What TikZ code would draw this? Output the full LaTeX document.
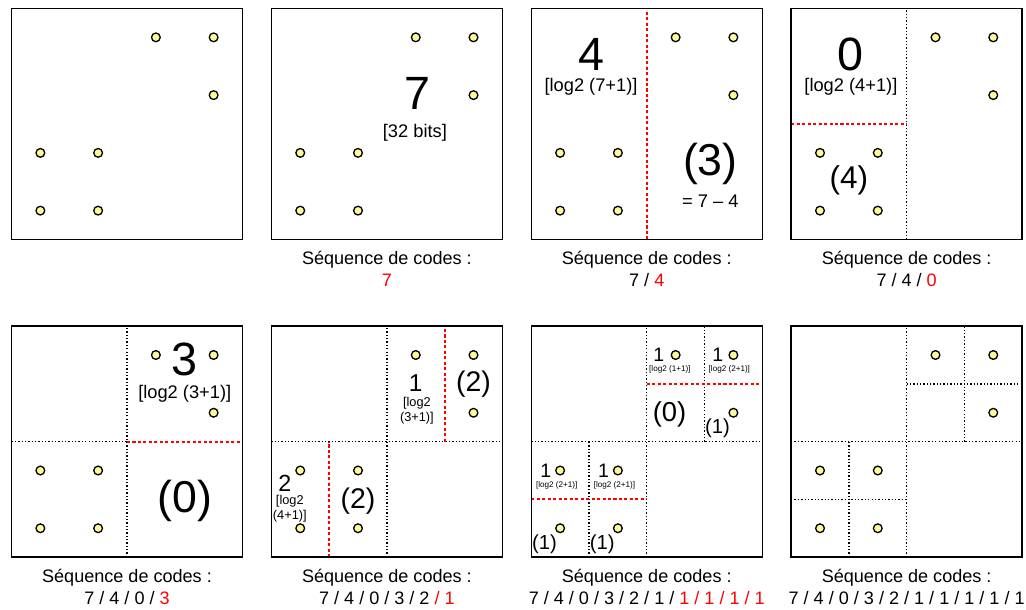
\documentclass[tikz,border=0pt]{standalone}
\usepackage{fontspec}
\setmainfont{Liberation Sans}
\begin{document}
\begin{tikzpicture}[x=0.5cm,y=0.5cm,
  every node/.style={inner sep=0pt},
  panel/.style={draw, line width=0.65pt},
  point/.style={circle, draw, fill=yellow!40, line width=0.65pt, minimum size=4.3pt},
  grid line/.style={line width=0.65pt, dash pattern=on 0.65pt off 1pt},
  cut line/.style={red, line width=1.1pt, dash pattern=on 1.5pt off 1.2pt},
  caption/.style={font=\fontsize{8.9}{10}\selectfont},
  big/.style={font=\fontsize{23}{23}\selectfont},
  rest/.style={font=\fontsize{22}{22}\selectfont},
  note/.style={font=\fontsize{9}{10}\selectfont},
  tiny/.style={font=\fontsize{4}{5}\selectfont}]
\useasboundingbox (-0.398,-12.814) rectangle (35.134,8.294);

% step 2
\begin{scope}[shift={(9,0)}]
\node[big] (p2-num) at (5.05,5.06) {7};
\node[note] (p2-bits) at (4.97,3.7) {[32 bits]};
\node[caption] (p2-cap) at (4,-0.7) {Séquence de codes :};
\node[caption] (p2-seq) at (4,-1.42) {\textcolor{red}{7}};
\end{scope}

% step 3
\begin{scope}[shift={(18,0)}]
\draw[cut line] (4,0) -- (4,8);
\node[big] (p3-num) at (2.07,6.4) {4};
\node[note] (p3-log) at (2.07,5.3) {[log2 (7+1)]};
\node[rest] (p3-rest) at (6.2,2.6) {(3)};
\node[note] (p3-diff) at (6.2,1.31) {= 7 – 4};
\node[caption] (p3-cap) at (4,-0.7) {Séquence de codes :};
\node[caption] (p3-seq) at (4,-1.42) {7 / \textcolor{red}{4}};
\end{scope}

% step 4
\begin{scope}[shift={(27,0)}]
\draw[grid line] (4,0) -- (4,8);
\draw[cut line] (0,4) -- (4,4);
\node[big] (p4-num) at (2.07,6.4) {0};
\node[note] (p4-log) at (2.07,5.3) {[log2 (4+1)]};
\node[font=\fontsize{15.5}{16}\selectfont] (p4-rest) at (2,2.06) {(4)};
\node[caption] (p4-cap) at (4,-0.7) {Séquence de codes :};
\node[caption] (p4-seq) at (4,-1.42) {7 / 4 / \textcolor{red}{0}};
\end{scope}

% step 5
\begin{scope}[shift={(0,-11)}]
\draw[grid line] (4,0) -- (4,8);
\draw[grid line] (0,4) -- (4,4);
\draw[cut line] (4,4) -- (8,4);
\node[big] (p5-num) at (6,6.86) {3};
\node[note] (p5-log) at (6,5.66) {[log2 (3+1)]};
\node[rest] (p5-rest) at (6,1.95) {(0)};
\node[caption] (p5-cap) at (4,-0.7) {Séquence de codes :};
\node[caption] (p5-seq) at (4,-1.42) {7 / 4 / 0 / \textcolor{red}{3}};
\end{scope}

% step 6
\begin{scope}[shift={(9,-11)}]
\draw[grid line] (4,0) -- (4,8);
\draw[grid line] (0,4) -- (8,4);
\draw[cut line] (6,4) -- (6,8);
\draw[cut line] (2,0) -- (2,4);
\node[font=\fontsize{12}{12}\selectfont] (p6-num-a) at (5,6.02) {1};
\node[font=\fontsize{6.3}{7.6}\selectfont, align=center] (p6-log-a) at (5.04,5.07) {[log2\\(3+1)]};
\node[font=\fontsize{14}{14}\selectfont] (p6-rest-a) at (7,6) {(2)};
\node[font=\fontsize{11.5}{12}\selectfont] (p6-num-b) at (0.47,2.55) {2};
\node[font=\fontsize{6.3}{7.2}\selectfont, align=center] (p6-log-b) at (0.64,1.67) {[log2\\(4+1)]};
\node[font=\fontsize{14}{14}\selectfont] (p6-rest-b) at (3,1.95) {(2)};
\node[caption] (p6-cap) at (4,-0.7) {Séquence de codes :};
\node[caption] (p6-seq) at (4,-1.42) {7 / 4 / 0 / 3 / 2 \textcolor{red}{/ 1}};
\end{scope}

% step 7
\begin{scope}[shift={(18,-11)}]
\draw[grid line] (4,0) -- (4,8);
\draw[grid line] (0,4) -- (8,4);
\draw[grid line] (6,4) -- (6,8);
\draw[grid line] (2,0) -- (2,4);
\draw[cut line] (4,6) -- (8,6);
\draw[cut line] (0,2) -- (4,2);
\node[font=\fontsize{9.6}{10}\selectfont] (p7-num-a) at (4.42,7) {1};
\node[tiny] (p7-log-a) at (4.8,6.5) {[log2 (1+1)]};
\node[font=\fontsize{9.6}{10}\selectfont] (p7-num-b) at (6.46,7) {1};
\node[tiny] (p7-log-b) at (6.86,6.5) {[log2 (2+1)]};
\node[font=\fontsize{13.5}{14}\selectfont] (p7-rest-a) at (4.79,4.96) {(0)};
\node[font=\fontsize{10}{10}\selectfont] (p7-rest-b) at (6.45,4.45) {(1)};
\node[font=\fontsize{9.6}{10}\selectfont] (p7-num-c) at (0.5,3) {1};
\node[tiny] (p7-log-c) at (0.88,2.5) {[log2 (2+1)]};
\node[font=\fontsize{9.6}{10}\selectfont] (p7-num-d) at (2.5,3) {1};
\node[tiny] (p7-log-d) at (2.88,2.5) {[log2 (2+1)]};
\node[font=\fontsize{10}{10}\selectfont] (p7-rest-c) at (0.46,0.45) {(1)};
\node[font=\fontsize{10}{10}\selectfont] (p7-rest-d) at (2.46,0.45) {(1)};
\node[caption] (p7-cap) at (4,-0.7) {Séquence de codes :};
\node[caption] (p7-seq) at (4,-1.42) {7 / 4 / 0 / 3 / 2 / 1 / \textcolor{red}{1 / 1 / 1 / 1}};
\end{scope}

% step 8
\begin{scope}[shift={(27,-11)}]
\draw[grid line] (4,0) -- (4,8);
\draw[grid line] (0,4) -- (8,4);
\draw[grid line] (6,4) -- (6,8);
\draw[grid line] (4,6) -- (8,6);
\draw[grid line] (2,0) -- (2,4);
\draw[grid line] (0,2) -- (4,2);
\node[caption] (p8-cap) at (4,-0.7) {Séquence de codes :};
\node[caption] (p8-seq) at (4,-1.42) {7 / 4 / 0 / 3 / 2 / 1 / 1 / 1 / 1 / 1};
\end{scope}

% frames and points, same in every step
\foreach \i/\x/\y in {1/0/0,2/9/0,3/18/0,4/27/0,5/0/-11,6/9/-11,7/18/-11,8/27/-11} {
  \begin{scope}[shift={(\x,\y)}]
  \draw[panel] (0,0) rectangle (8,8);
  \foreach \j/\a/\b in {1/5/7,2/7/7,3/7/5,4/1/3,5/3/3,6/1/1,7/3/1}
    \node[point] (p\i-d\j) at (\a,\b) {};
  \end{scope}
}
\end{tikzpicture}
\end{document}
